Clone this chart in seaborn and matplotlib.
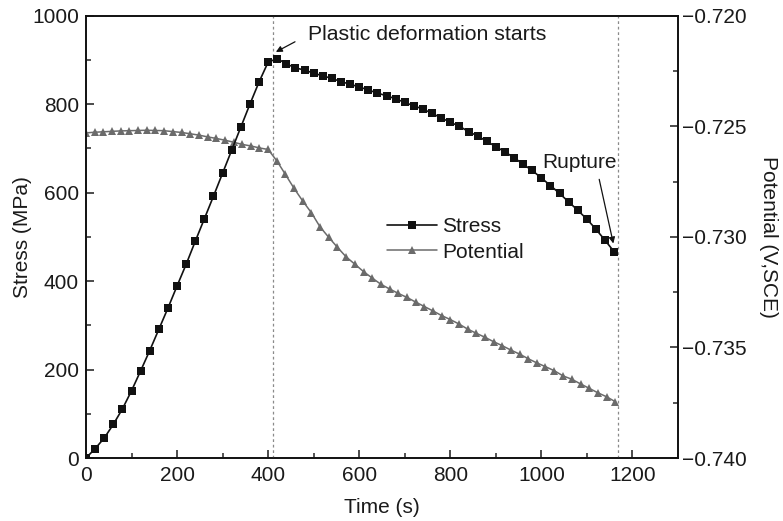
import matplotlib
matplotlib.use("Agg")
import matplotlib.pyplot as plt
from matplotlib.ticker import MultipleLocator, FuncFormatter
import pandas as pd
import seaborn as sns

# Stress record (20 s sampling)
stress_time = [0, 20, 40, 60, 80, 100, 120, 140, 160, 180, 200, 220, 240, 260, 280,
               300, 320, 340, 360, 380, 400, 420, 440, 460, 480, 500, 520, 540, 560,
               580, 600, 620, 640, 660, 680, 700, 720, 740, 760, 780, 800, 820, 840,
               860, 880, 900, 920, 940, 960, 980, 1000, 1020, 1040, 1060, 1080, 1100,
               1120, 1140, 1160]
stress_mpa = [0, 21, 45, 76, 111, 152, 197, 243, 291, 339, 389, 438, 490, 541, 592,
              644, 696, 748, 800, 850, 895, 903, 891, 882, 877, 870, 864, 858, 851,
              845, 839, 832, 825, 819, 812, 804, 796, 789, 779, 769, 759, 750, 738,
              728, 716, 704, 692, 679, 664, 650, 633, 616, 598, 579, 560, 540,
              517, 492, 466]

# Open-circuit potential record
potential_time = [0, 19, 38, 57, 76, 95, 114, 133, 152, 171, 190, 210, 229, 248, 267,
                  286, 305, 324, 343, 362, 381, 400, 419, 438, 457, 476, 495, 514, 533,
                  552, 571, 590, 610, 629, 648, 667, 686, 705, 724, 743, 762, 781, 800,
                  819, 838, 857, 876, 895, 914, 933, 952, 971, 990, 1009, 1028, 1048,
                  1067, 1086, 1105, 1124, 1143, 1162]
potential_v = [-0.72530, -0.72527, -0.72525, -0.72523, -0.72521, -0.72520, -0.72519,
               -0.72518, -0.72519, -0.72520, -0.72524, -0.72528, -0.72534, -0.72540,
               -0.72548, -0.72555, -0.72563, -0.72572, -0.72582, -0.72589, -0.72598,
               -0.72605, -0.72656, -0.72718, -0.72781, -0.72838, -0.72891, -0.72955,
               -0.73002, -0.73047, -0.73090, -0.73123, -0.73158, -0.73187, -0.73215,
               -0.73236, -0.73256, -0.73274, -0.73295, -0.73315, -0.73335, -0.73356,
               -0.73374, -0.73394, -0.73417, -0.73436, -0.73454, -0.73474, -0.73492,
               -0.73512, -0.73530, -0.73551, -0.73570, -0.73587, -0.73605, -0.73629,
               -0.73644, -0.73665, -0.73685, -0.73705, -0.73723, -0.73745]

x_ticks = [0, 200, 400, 600, 800, 1000, 1200]
yield_time = 411
rupture_time = 1169

stress_df = pd.DataFrame({"Time": stress_time, "Stress": stress_mpa})
potential_df = pd.DataFrame({"Time": potential_time, "Potential": potential_v})

sns.set_style("ticks")
plt.rcParams["font.family"] = ["Liberation Sans", "DejaVu Sans"]
plt.rcParams["xtick.direction"] = "in"
plt.rcParams["ytick.direction"] = "in"

FS = 15
TXT = "#1a1a1a"
GREY = "#6b6b6b"

fig = plt.figure(figsize=(7.83, 5.21), dpi=100)
ax = fig.add_axes([0.1098, 0.1209, 0.7561, 0.849])
ax2 = ax.twinx()

sns.lineplot(data=stress_df, x="Time", y="Stress", ax=ax, color="#111111",
             marker="s", markersize=5.2, markeredgewidth=0, linewidth=1.2,
             estimator=None, sort=False, label="Stress", legend=False)
sns.lineplot(data=potential_df, x="Time", y="Potential", ax=ax2, color=GREY,
             marker="^", markersize=6, markeredgewidth=0, linewidth=1.1,
             estimator=None, sort=False, label="Potential", legend=False)

for t in (yield_time, rupture_time):
    ax.axvline(t, color="#8a8a8a", linewidth=0.9, linestyle=(0, (2.2, 2.2)), zorder=0)

ax.set_xlim(0, 1300)
ax.set_ylim(0, 1000)
ax2.set_ylim(-0.740, -0.720)

ax.set_xticks(x_ticks)
ax.xaxis.set_minor_locator(MultipleLocator(100))
ax.yaxis.set_major_locator(MultipleLocator(200))
ax.yaxis.set_minor_locator(MultipleLocator(100))
ax2.yaxis.set_major_locator(MultipleLocator(0.005))
ax2.yaxis.set_minor_locator(MultipleLocator(0.0025))
ax2.yaxis.set_major_formatter(
    FuncFormatter(lambda v, _: f"{v:.3f}".replace("-", "\u2212")))

for a in (ax, ax2):
    for s in a.spines.values():
        s.set_linewidth(1.2)
        s.set_color("#111111")
ax.tick_params(axis="both", which="major", length=6, width=1.1, labelsize=FS,
               colors=TXT, top=False, right=False)
ax.tick_params(axis="both", which="minor", length=3.5, width=1.1, top=False, right=False)
ax.tick_params(axis="x", which="major", pad=6)
ax.tick_params(axis="y", which="major", pad=5)
ax2.tick_params(axis="y", which="major", length=6, width=1.1, labelsize=FS,
                colors=TXT, pad=3)
ax2.tick_params(axis="y", which="minor", length=3.5, width=1.1)

ax.set_xlabel("Time (s)", fontsize=FS, color=TXT, va="center")
ax.set_ylabel("Stress (MPa)", fontsize=FS, color=TXT, va="center")
ax2.set_ylabel("Potential (V,SCE)", fontsize=FS, color=TXT, rotation=270, va="center")
ax.xaxis.set_label_coords(0.5, -0.113)
ax.yaxis.set_label_coords(-0.107, 0.5)
ax2.yaxis.set_label_coords(1.153, 0.5)

# Annotations
ax.text(487, 958, "Plastic deformation starts", fontsize=FS + 0.3, color=TXT,
        ha="left", va="center")
ax.annotate("", xy=(417, 918), xytext=(459, 941),
            arrowprops=dict(arrowstyle="-|>", color="#111111", lw=0.9,
                            mutation_scale=9, shrinkA=0, shrinkB=0))
ax.text(1001, 667, "Rupture", fontsize=FS, color=TXT, ha="left", va="center")
ax.annotate("", xy=(1158, 485), xytext=(1127, 630),
            arrowprops=dict(arrowstyle="-|>", color="#111111", lw=0.9,
                            mutation_scale=9, shrinkA=0, shrinkB=0))

h1, l1 = ax.get_legend_handles_labels()
h2, l2 = ax2.get_legend_handles_labels()
leg = ax.legend(h1 + h2, l1 + l2, loc="upper left", bbox_to_anchor=(0.508, 0.544),
                frameon=False, fontsize=FS, handlelength=2.4, handletextpad=0.25,
                borderpad=0, borderaxespad=0, labelspacing=0.3)
for t in leg.get_texts():
    t.set_color(TXT)
ax.set_zorder(ax2.get_zorder() + 1)
ax.patch.set_visible(False)

fig.savefig("out.png", dpi=100)
